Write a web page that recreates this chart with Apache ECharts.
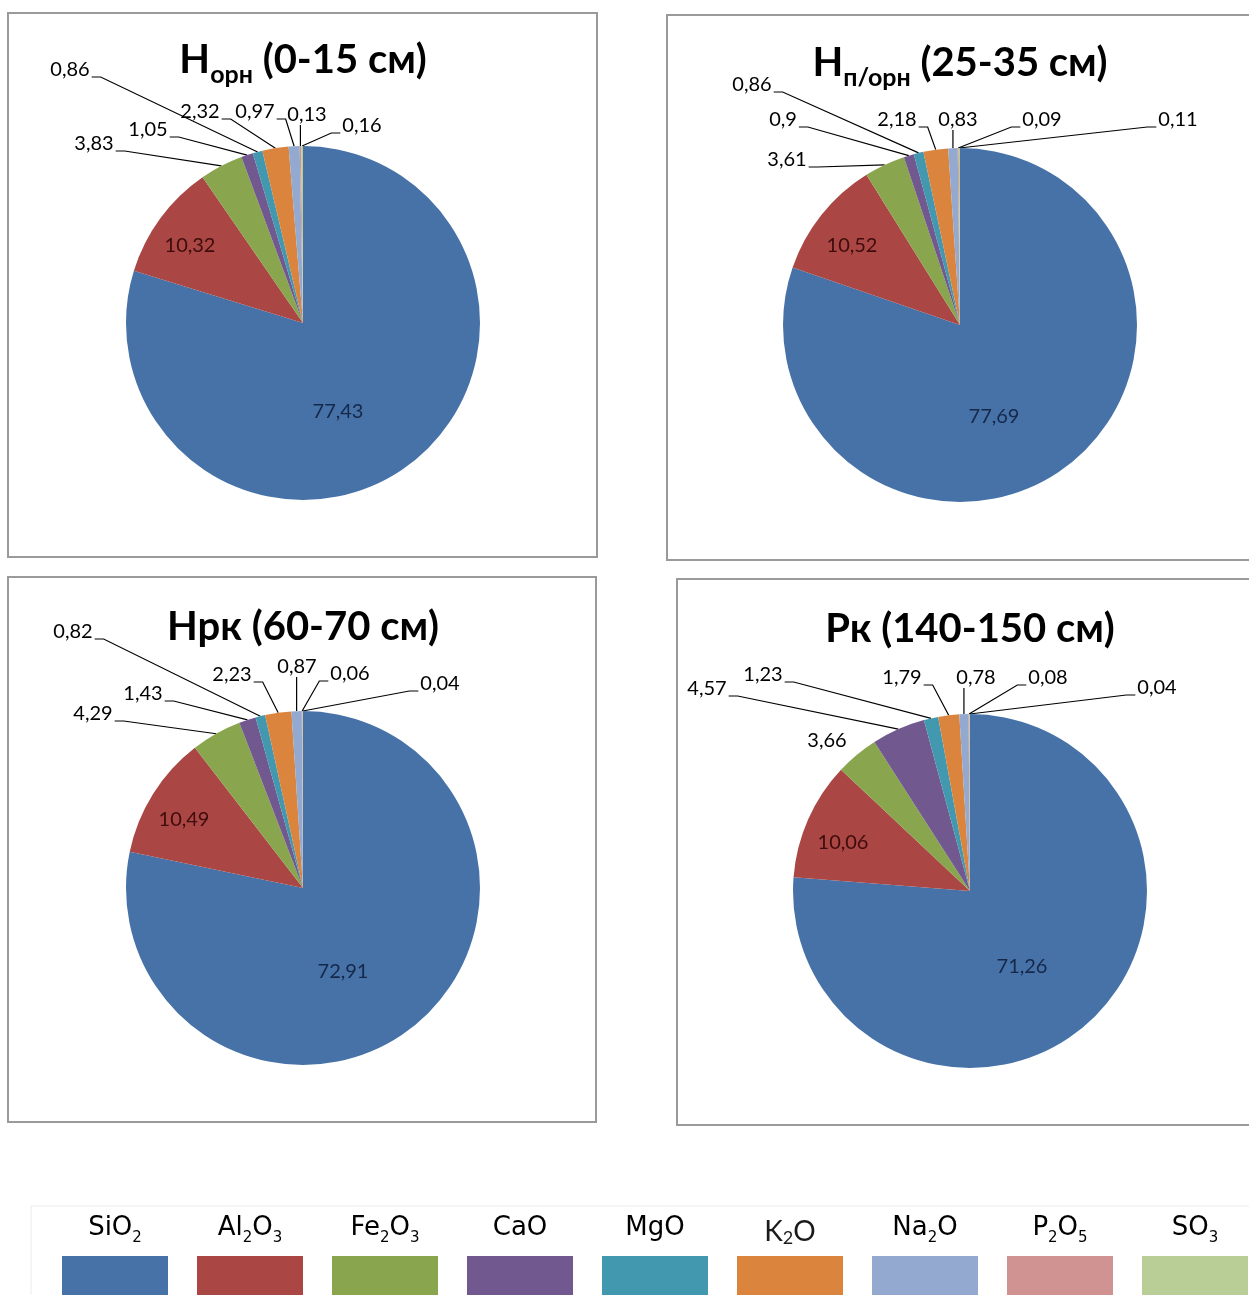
<!DOCTYPE html>
<html>
<head>
<meta charset="utf-8">
<script src="https://cdn.jsdelivr.net/npm/echarts@6/dist/echarts.min.js"></script>
<style>
  html, body { margin: 0; padding: 0; background: #ffffff; }
  #chart { width: 1249px; height: 1295px; }
</style>
</head>
<body>
<div id="chart"></div>
<script>
// Oxide composition of soil horizons, % (order: SiO2, Al2O3, Fe2O3, CaO, MgO, K2O, Na2O, P2O5, SO3)
const oxides = ['SiO2', 'Al2O3', 'Fe2O3', 'CaO', 'MgO', 'K2O', 'Na2O', 'P2O5', 'SO3'];
const oxideLegendLabels = [
  '{m|SiO}{s|2}',
  '{m|Al}{s|2}{m|O}{s|3}',
  '{m|Fe}{s|2}{m|O}{s|3}',
  '{m|CaO}',
  '{m|MgO}',
  '{k|K}{ks|2}{k|O}',
  '{m|Na}{s|2}{m|O}',
  '{m|P}{s|2}{m|O}{s|5}',
  '{m|SO}{s|3}'
];
const oxideColors = ['#4672A8', '#AA4644', '#89A54E', '#71588F', '#4198AF', '#DB843D', '#93A9CF', '#D19392', '#B9CD96'];

const horizonTitles = [
  '{b|Н}{s|орн}{b| (0-15 см)}',
  '{b|Н}{s|п/орн}{b| (25-35 см)}',
  '{b|Нрк (60-70 см)}',
  '{b|Рк (140-150 см)}'
];

const valuesOrn  = [77.43, 10.32, 3.83, 1.05, 0.86, 2.32, 0.97, 0.13, 0.16];
const valuesPOrn = [77.69, 10.52, 3.61, 0.9, 0.86, 2.18, 0.83, 0.09, 0.11];
const valuesHrk  = [72.91, 10.49, 4.29, 1.43, 0.82, 2.23, 0.87, 0.06, 0.04];
const valuesRk   = [71.26, 10.06, 3.66, 4.57, 1.23, 1.79, 0.78, 0.08, 0.04];

// Layout of the four panels: frame box, pie centre, title line, and label anchors
// (label anchors are offsets from the pie centre; a third entry 0 means no leader line)
const panels = [
  { values: valuesOrn, title: horizonTitles[0], box: [8, 13, 589, 544], center: [303, 323], titleY: 60,
    spots: [[35, 89], [-113, -77], [-209, -179], [-155, -193], [-233, -253], [-103, -211], [-48, -211], [4, -208], [59, -197]] },
  { values: valuesPOrn, title: horizonTitles[1], box: [667, 15, 620, 545], center: [960, 325], titleY: 63,
    spots: [[34, 92], [-108, -79], [-173, -165], [-177, -205], [-208, -240], [-63, -205], [-2, -205], [82, -205], [218, -205]] },
  { values: valuesHrk, title: horizonTitles[2], box: [8, 577, 588, 545], center: [303, 888], titleY: 627,
    spots: [[40, 84], [-119, -68], [-210, -174], [-160, -194], [-230, -256], [-71, -213], [-6, -221], [47, -214], [137, -204]] },
  { values: valuesRk, title: horizonTitles[3], box: [677, 579, 610, 546], center: [970, 891], titleY: 629,
    spots: [[52, 76], [-127, -48], [-143, -150, 0], [-263, -202], [-207, -216], [-68, -213], [6, -213], [78, -213], [187, -203]] }
];

const PIE_R = 177;
const labelFont = 'Lato, "Open Sans", sans-serif';
const innerLabelColors = ['#16284a', '#3e0c0c'];

const chart = echarts.init(document.getElementById('chart'));
const fmt = v => String(v).replace('.', ',');

function edgePoint(seriesIndex, dataIndex) {
  const data = chart.getModel().getSeriesByIndex(seriesIndex).getData();
  const l = data.getItemLayout(dataIndex);
  const mid = (l.startAngle + l.endAngle) / 2;
  return [l.cx + l.r * Math.cos(mid), l.cy + l.r * Math.sin(mid)];
}

function labelLayoutFor(panel) {
  return function (params) {
    const s = panel.spots[params.dataIndex];
    const cx = panel.center[0] + s[0];
    const cy = panel.center[1] + s[1];
    const res = { x: cx, y: cy, align: 'center', verticalAlign: 'middle' };
    if (params.dataIndex < 2) return res;
    const e = (params.labelLinePoints && params.labelLinePoints.length)
      ? params.labelLinePoints[0] : edgePoint(params.seriesIndex, params.dataIndex);
    if (s[2] === 0) {
      res.labelLinePoints = [[e[0], e[1]], [e[0], e[1]], [e[0], e[1]]];
      return res;
    }
    const hw = params.labelRect.width / 2;
    const hh = params.labelRect.height / 2;
    const x0 = cx - hw, x1 = cx + hw, ys = cy + 7;
    if (e[0] >= x0 - 2 && e[0] <= x1 + 2) {
      res.labelLinePoints = [[e[0], e[1]], [e[0], cy + hh], [e[0], cy + hh]];
    } else if (e[0] > x1) {
      res.labelLinePoints = [[e[0], e[1]], [x1 + 11, ys], [x1 + 2, ys]];
    } else {
      res.labelLinePoints = [[e[0], e[1]], [x0 - 11, ys], [x0 - 2, ys]];
    }
    return res;
  };
}

const series = panels.map(function (p) {
  return {
    type: 'pie',
    center: p.center,
    radius: PIE_R,
    startAngle: 90,
    clockwise: true,
    avoidLabelOverlap: false,
    animation: false,
    emphasis: { disabled: true },
    itemStyle: { borderWidth: 0 },
    label: {
      show: true,
      position: 'outside',
      formatter: function (d) { return fmt(d.value); },
      fontFamily: labelFont,
      fontSize: 20,
      color: '#000000'
    },
    labelLine: { show: true, length: 6, length2: 6, lineStyle: { color: '#000000', width: 1.2 } },
    labelLayout: labelLayoutFor(p),
    data: p.values.map(function (v, i) {
      const item = { name: oxides[i], value: v, itemStyle: { color: oxideColors[i] } };
      if (i < 2) {
        item.label = { color: innerLabelColors[i] };
        item.labelLine = { show: false };
      }
      return item;
    })
  };
});

const graphics = [];
panels.forEach(function (p) {
  graphics.push({
    type: 'rect', silent: true,
    shape: { x: p.box[0], y: p.box[1], width: p.box[2], height: p.box[3] },
    style: { fill: 'none', stroke: '#9a9a9a', lineWidth: 2 }
  });
  graphics.push({
    type: 'text', silent: true,
    x: p.center[0], y: p.titleY,
    style: {
      text: p.title,
      align: 'center',
      verticalAlign: 'middle',
      rich: {
        b: { fontFamily: labelFont, fontWeight: 'bold', fontSize: 40, fill: '#000000' },
        s: { fontFamily: labelFont, fontWeight: 'bold', fontSize: 25, fill: '#000000', padding: [30, 0, 0, 0] }
      }
    }
  });
});

// Legend: caption above a colour swatch for each oxide
const legendX0 = 62, legendStep = 135, swatchW = 106;
graphics.push({
  type: 'rect', silent: true,
  shape: { x: 31, y: 1206, width: 1240, height: 120 },
  style: { fill: 'none', stroke: '#ececec', lineWidth: 1 }
});
oxides.forEach(function (name, i) {
  const x = legendX0 + i * legendStep;
  graphics.push({
    type: 'rect', silent: true,
    shape: { x: x, y: 1256, width: swatchW, height: 50 },
    style: { fill: oxideColors[i] }
  });
  graphics.push({
    type: 'text', silent: true,
    x: x + swatchW / 2, y: 1228,
    style: {
      text: oxideLegendLabels[i],
      align: 'center',
      verticalAlign: 'middle',
      rich: {
        m: { fontFamily: '"DejaVu Sans", sans-serif', fontSize: 26, fill: '#000000' },
        s: { fontFamily: '"DejaVu Sans", sans-serif', fontSize: 15, fill: '#000000', padding: [20, 0, 0, 0] },
        k: { fontFamily: labelFont, fontSize: 28, fill: '#1a1a1a', padding: [8, 0, 0, 0] },
        ks: { fontFamily: labelFont, fontSize: 18, fill: '#1a1a1a', padding: [20, 0, 0, 0] }
      }
    }
  });
});

chart.setOption({
  animation: false,
  backgroundColor: '#ffffff',
  series: series,
  graphic: { elements: graphics }
});
</script>
</body>
</html>
